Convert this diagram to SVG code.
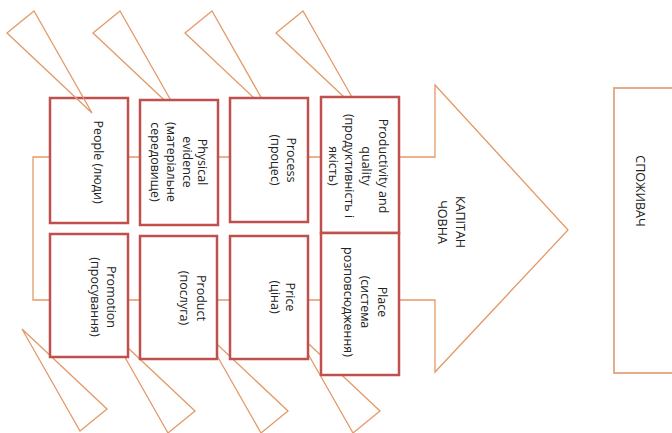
<svg xmlns="http://www.w3.org/2000/svg" width="672" height="433" viewBox="0 0 672 433">
<style>
.sp{fill:none;stroke:#E39A68;stroke-width:1.3;stroke-linejoin:miter}
.bone{fill:none;stroke:#E39A68;stroke-width:1.3}
.box{fill:#fff;stroke:#C0504D;stroke-width:2.5}
.cons{fill:#fff;stroke:#E0A47E;stroke-width:1.8}
text{font-family:"Open Sans","Noto Sans","DejaVu Sans",sans-serif;font-size:12.5px;fill:#222;text-anchor:middle;dominant-baseline:central}
</style>
<rect width="672" height="433" fill="#fff"/>
<g id="connectors">
<polygon class="sp" points="33,157 435,157 435,85 568,230 435,372 435,300 33,300"/>
<polygon class="bone" points="93,33 120,11 178,113"/>
<polygon class="bone" points="185,33 212,11 270,113"/>
<polygon class="bone" points="276,33 303,11 361,113"/>
<polygon class="bone" points="22,329 107,409 80,431"/>
<polygon class="bone" points="110,331 195,411 168,433"/>
<polygon class="bone" points="203,331 288,411 261,433"/>
<polygon class="bone" points="295,331 380,411 353,433"/>
</g>
<g id="people">
<rect class="box" x="50" y="98" width="78" height="125"/>
<text transform="translate(98,162) rotate(90)">People (люди)</text>
</g>
<g id="bone-people">
<polygon class="bone" points="7,33 34,11 92,113"/>
</g>
<g id="physical">
<rect class="box" x="140" y="100" width="78" height="125"/>
<text transform="translate(202,162) rotate(90)">Physical</text>
<text transform="translate(187,162) rotate(90)">evidence</text>
<text transform="translate(171,162) rotate(90)">(матеріальне</text>
<text transform="translate(155,162) rotate(90)">середовище)</text>
</g>
<g id="process">
<rect class="box" x="230" y="98" width="78" height="124"/>
<text transform="translate(291,160) rotate(90)">Process</text>
<text transform="translate(275,160) rotate(90)">(процес)</text>
</g>
<g id="productivity">
<rect class="box" x="321" y="97" width="78" height="136"/>
<text transform="translate(383,166) rotate(90)">Productivity and</text>
<text transform="translate(366,166) rotate(90)">quality</text>
<text transform="translate(349,166) rotate(90)">(продуктивність і</text>
<text transform="translate(333,166) rotate(90)">якість)</text>
</g>
<g id="promotion">
<rect class="box" x="50" y="234" width="78" height="123"/>
<text transform="translate(111,297) rotate(90)">Promotion</text>
<text transform="translate(95,297) rotate(90)">(просування)</text>
</g>
<g id="product">
<rect class="box" x="140" y="236" width="77" height="123"/>
<text transform="translate(201,298) rotate(90)">Product</text>
<text transform="translate(184,298) rotate(90)">(послуга)</text>
</g>
<g id="price">
<rect class="box" x="230" y="236" width="78" height="123"/>
<text transform="translate(290,297) rotate(90)">Price</text>
<text transform="translate(275,297) rotate(90)">(ціна)</text>
</g>
<g id="place">
<rect class="box" x="321" y="233" width="78" height="142"/>
<text transform="translate(382,302) rotate(90)">Place</text>
<text transform="translate(365,302) rotate(90)">(система</text>
<text transform="translate(348,302) rotate(90)">розповсюдження)</text>
</g>
<g id="captain">
<text transform="translate(460,222) rotate(90)">КАПІТАН</text>
<text transform="translate(442,222) rotate(90)">ЧОВНА</text>
</g>
<g id="consumer">
<rect class="cons" x="614" y="88" width="70" height="285"/>
<text transform="translate(640,191) rotate(90)">СПОЖИВАЧ</text>
</g>
</svg>
